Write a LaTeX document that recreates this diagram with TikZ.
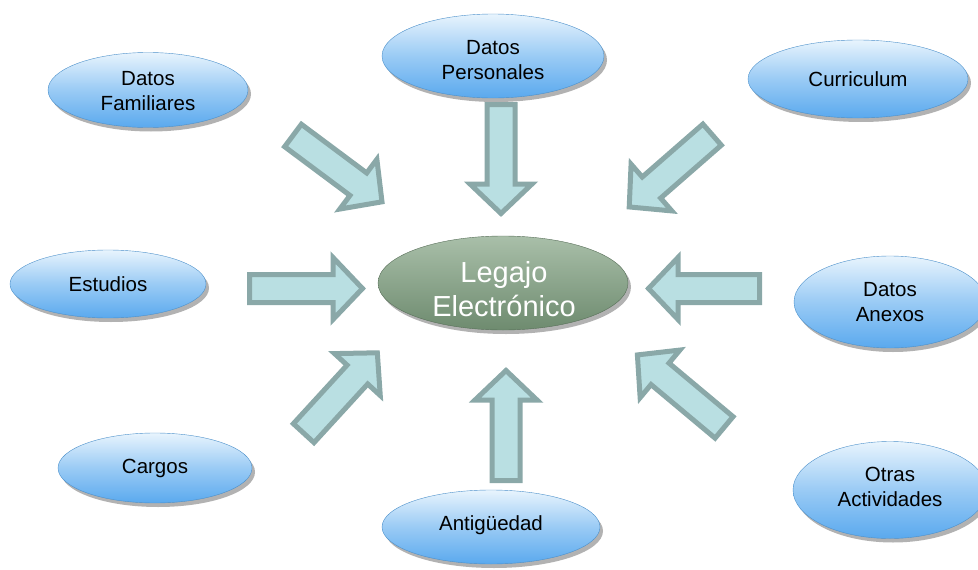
\documentclass[tikz,border=0pt]{standalone}
\usepackage{fontspec}
\setmainfont{Liberation Sans}
\usetikzlibrary{shapes.geometric,shadows}
\definecolor{arrfill}{HTML}{B9DFE2}
\definecolor{arrline}{HTML}{8AA8A8}
\definecolor{bluetop}{HTML}{E8F4FD}
\definecolor{bluebot}{HTML}{5AA9EE}
\definecolor{greentop}{HTML}{A9BFA9}
\definecolor{greenbot}{HTML}{6E8B6F}
\tikzset{
  bubble/.style={ellipse, inner sep=0pt, align=center,
    top color=bluetop, bottom color=bluebot, middle color=bluetop!45!bluebot,
    draw=bluebot!85!black, line width=0.4pt,
    font=\fontsize{20.5}{25}\selectfont,
    drop shadow={shadow xshift=3pt, shadow yshift=-4pt, opacity=0.5, fill=black!60}},
  hub/.style={ellipse, inner sep=0pt, align=center,
    top color=greentop, bottom color=greenbot,
    draw=greenbot!80!black, line width=0.4pt,
    drop shadow={shadow xshift=3pt, shadow yshift=-4pt, opacity=0.5, fill=black!60}},
  hubtext/.style={align=center, text=white, inner sep=0pt,
    font=\fontsize{29}{34}\selectfont},
  bubtext/.style={align=center, inner sep=0pt, font=\fontsize{20.5}{25}\selectfont},
  blockarr/.style={fill=arrfill, draw=arrline, line width=5pt, line join=miter}
}
% name, tail x, tail y, angle, outer length
\newcommand\barrow[5]{%
  \begin{scope}[shift={(#2,#3)}, rotate=#4]
    \draw[blockarr] (2.5,-14) -- ({#5-33},-14) -- ({#5-33},-31) -- ({#5-3.5},0)
      -- ({#5-33},31) -- ({#5-33},14) -- (2.5,14) -- cycle;
    \coordinate (#1) at ({#5/2},0);
  \end{scope}}
\begin{document}
\begin{tikzpicture}[x=1pt,y=-1pt]
\useasboundingbox (0,0) rectangle (978,570);
\clip (0,0) rectangle (978,570);
% arrows
\barrow{aTL}{291}{134}{-36.7}{117}
\barrow{aTC}{501}{102}{-90}{115}
\barrow{aTR}{714}{133}{-138.9}{116}
\barrow{aL}{247}{288.5}{0}{119}
\barrow{aR}{762}{288.5}{180}{117}
\barrow{aBL}{302}{435}{47.5}{115}
\barrow{aBC}{506}{483}{90}{116}
\barrow{aBR}{726}{429}{140.1}{119}
% nodes
\node[bubble, minimum width=200pt, minimum height=75pt] (fam) at (148,90) {};
\node[bubtext] (famt) at (148,91) {Datos\\Familiares};
\node[bubble, minimum width=222pt, minimum height=84pt] (per) at (493,56) {};
\node[bubtext] (pert) at (493,60) {Datos\\Personales};
\node[bubble, minimum width=220pt, minimum height=78pt] (cur) at (858,79) {Curriculum};
\node[bubble, minimum width=196pt, minimum height=68pt] (est) at (108,284) {Estudios};
\node[hub, minimum width=250pt, minimum height=94pt] (leg) at (503,283) {};
\node[hubtext] (legt) at (504,289) {Legajo\\Electrónico};
\node[bubble, minimum width=192pt, minimum height=92pt] (anx) at (890,302) {Datos\\Anexos};
\node[bubble, minimum width=194pt, minimum height=70pt] (car) at (155,468) {Cargos};
\node[bubble, minimum width=218pt, minimum height=74pt] (ant) at (491,527) {};
\node[bubtext] (antt) at (491,525) {Antigüedad};
\node[bubble, minimum width=194pt, minimum height=97pt] (otr) at (890,490) {};
\node[bubtext] (otrt) at (890,487) {Otras\\Actividades};
\end{tikzpicture}
\end{document}
